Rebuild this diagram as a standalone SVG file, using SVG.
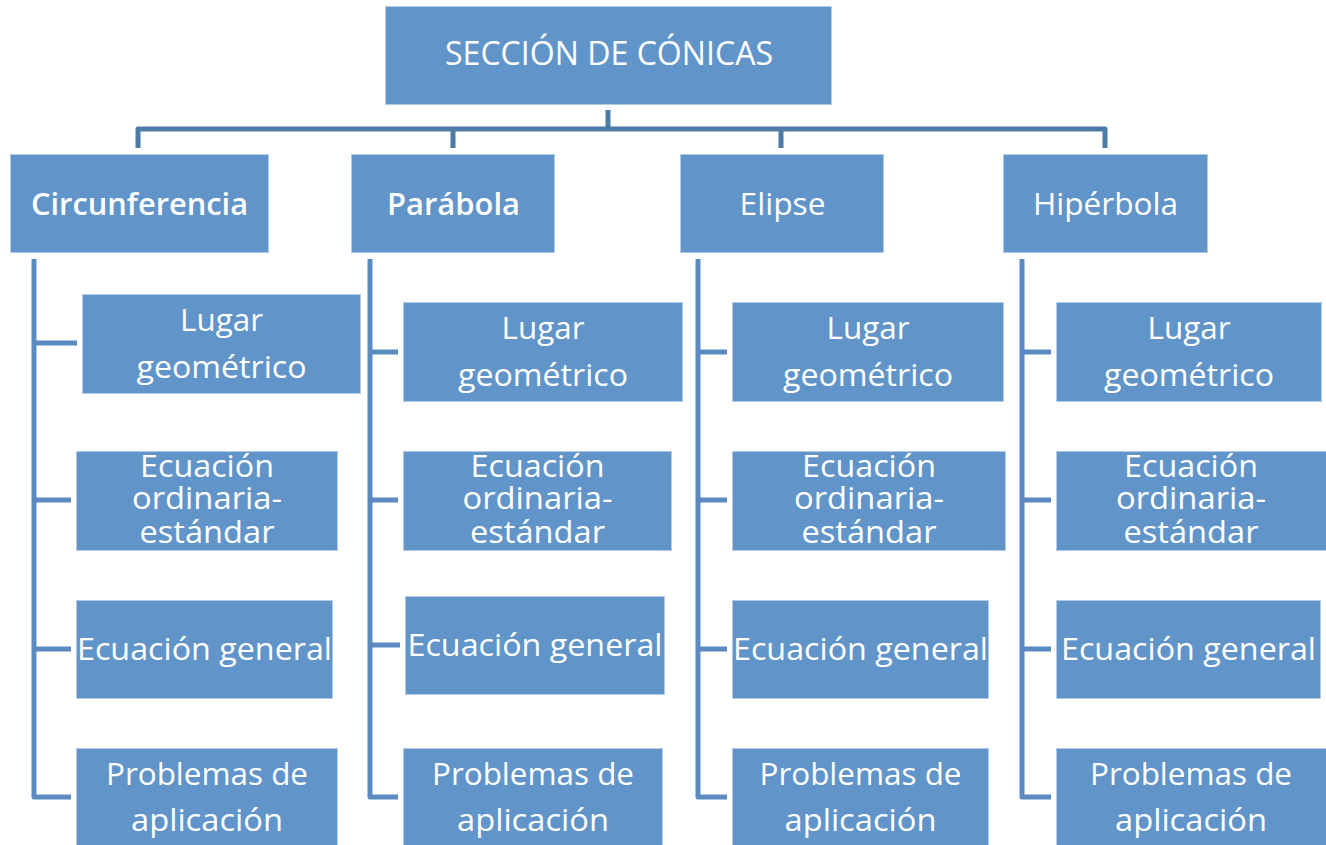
<svg xmlns="http://www.w3.org/2000/svg" width="1326" height="845" viewBox="0 0 1326 845">
<style>
.box{fill:#6195c9;stroke:#b3cbe6;stroke-width:1}
.t{font-family:"Open Sans","Liberation Sans",sans-serif;font-size:31px;fill:#ffffff;text-anchor:middle}
.h{font-size:32px;font-weight:500}
.b{font-weight:600}
.top{fill:none;stroke:#4e7aa8;stroke-width:5;stroke-linejoin:round}
.col{fill:none;stroke:#5b8ac0;stroke-width:5;stroke-linejoin:round}
</style>
<rect width="1326" height="845" fill="#ffffff"/>
<g id="connectors">
<path class="top" d="M608,110 V129"/>
<path class="top" d="M138,148 V129 H1105 V148"/>
<path class="top" d="M453,129 V148"/>
<path class="top" d="M781,129 V148"/>
<path class="col" d="M34,259 V797 H71 M34,343 H77 M34,500 H71 M34,649 H71"/>
<path class="col" d="M370,259 V797 H398 M370,352 H398 M370,500 H398 M370,645 H400"/>
<path class="col" d="M698,259 V797 H727 M698,352 H727 M698,500 H727 M698,649 H727"/>
<path class="col" d="M1022,259 V797 H1051 M1022,352 H1051 M1022,500 H1051 M1022,649 H1051"/>
</g>
<g id="root">
<rect class="box" x="385.5" y="6.5" width="446" height="98"/>
<text class="t h" x="609" y="65" textLength="328" lengthAdjust="spacingAndGlyphs">SECCIÓN DE CÓNICAS</text>
</g>
<g id="circunferencia">
<rect class="box" x="10.5" y="154.5" width="258" height="98"/>
<text class="t b" x="139.5" y="215" textLength="217" lengthAdjust="spacingAndGlyphs">Circunferencia</text>
</g>
<g id="parabola">
<rect class="box" x="351.5" y="154.5" width="203" height="98"/>
<text class="t b" x="453.5" y="215" textLength="133" lengthAdjust="spacingAndGlyphs">Parábola</text>
</g>
<g id="elipse">
<rect class="box" x="680.5" y="154.5" width="203" height="98"/>
<text class="t" x="782.5" y="215" textLength="86" lengthAdjust="spacingAndGlyphs">Elipse</text>
</g>
<g id="hiperbola">
<rect class="box" x="1003.5" y="154.5" width="204" height="98"/>
<text class="t" x="1105.5" y="215" textLength="145" lengthAdjust="spacingAndGlyphs">Hipérbola</text>
</g>

<g id="c1-lugar">
<rect class="box" x="82.5" y="294.5" width="278" height="99"/>
<text class="t" x="221.5" y="331" textLength="83" lengthAdjust="spacingAndGlyphs">Lugar</text>
<text class="t" x="221.5" y="378" textLength="170" lengthAdjust="spacingAndGlyphs">geométrico</text>
</g>
<g id="c1-ordinaria">
<rect class="box" x="76.5" y="451.5" width="261" height="99"/>
<text class="t" x="207" y="477" textLength="134" lengthAdjust="spacingAndGlyphs">Ecuación</text>
<text class="t" x="207" y="509" textLength="150" lengthAdjust="spacingAndGlyphs">ordinaria-</text>
<text class="t" x="207" y="543" textLength="135" lengthAdjust="spacingAndGlyphs">estándar</text>
</g>
<g id="c1-general">
<rect class="box" x="76.5" y="600.5" width="256" height="98"/>
<text class="t" x="204.5" y="660" textLength="255" lengthAdjust="spacingAndGlyphs">Ecuación general</text>
</g>
<g id="c1-problemas">
<rect class="box" x="76.5" y="748.5" width="261" height="99"/>
<text class="t" x="207" y="785" textLength="202" lengthAdjust="spacingAndGlyphs">Problemas de</text>
<text class="t" x="207" y="831" textLength="152" lengthAdjust="spacingAndGlyphs">aplicación</text>
</g>

<g id="c2-lugar">
<rect class="box" x="403.5" y="302.5" width="279" height="99"/>
<text class="t" x="543" y="339" textLength="83" lengthAdjust="spacingAndGlyphs">Lugar</text>
<text class="t" x="543" y="386" textLength="170" lengthAdjust="spacingAndGlyphs">geométrico</text>
</g>
<g id="c2-ordinaria">
<rect class="box" x="403.5" y="451.5" width="268" height="99"/>
<text class="t" x="537.5" y="477" textLength="134" lengthAdjust="spacingAndGlyphs">Ecuación</text>
<text class="t" x="537.5" y="509" textLength="150" lengthAdjust="spacingAndGlyphs">ordinaria-</text>
<text class="t" x="537.5" y="543" textLength="135" lengthAdjust="spacingAndGlyphs">estándar</text>
</g>
<g id="c2-general">
<rect class="box" x="405.5" y="596.5" width="259" height="98"/>
<text class="t" x="535" y="656" textLength="255" lengthAdjust="spacingAndGlyphs">Ecuación general</text>
</g>
<g id="c2-problemas">
<rect class="box" x="403.5" y="748.5" width="259" height="99"/>
<text class="t" x="533" y="785" textLength="202" lengthAdjust="spacingAndGlyphs">Problemas de</text>
<text class="t" x="533" y="831" textLength="152" lengthAdjust="spacingAndGlyphs">aplicación</text>
</g>

<g id="c3-lugar">
<rect class="box" x="732.5" y="302.5" width="271" height="99"/>
<text class="t" x="868" y="339" textLength="83" lengthAdjust="spacingAndGlyphs">Lugar</text>
<text class="t" x="868" y="386" textLength="170" lengthAdjust="spacingAndGlyphs">geométrico</text>
</g>
<g id="c3-ordinaria">
<rect class="box" x="732.5" y="451.5" width="273" height="99"/>
<text class="t" x="869" y="477" textLength="134" lengthAdjust="spacingAndGlyphs">Ecuación</text>
<text class="t" x="869" y="509" textLength="150" lengthAdjust="spacingAndGlyphs">ordinaria-</text>
<text class="t" x="869" y="543" textLength="135" lengthAdjust="spacingAndGlyphs">estándar</text>
</g>
<g id="c3-general">
<rect class="box" x="732.5" y="600.5" width="256" height="98"/>
<text class="t" x="860.5" y="660" textLength="255" lengthAdjust="spacingAndGlyphs">Ecuación general</text>
</g>
<g id="c3-problemas">
<rect class="box" x="732.5" y="748.5" width="256" height="99"/>
<text class="t" x="860.5" y="785" textLength="202" lengthAdjust="spacingAndGlyphs">Problemas de</text>
<text class="t" x="860.5" y="831" textLength="152" lengthAdjust="spacingAndGlyphs">aplicación</text>
</g>

<g id="c4-lugar">
<rect class="box" x="1056.5" y="302.5" width="265" height="99"/>
<text class="t" x="1189" y="339" textLength="83" lengthAdjust="spacingAndGlyphs">Lugar</text>
<text class="t" x="1189" y="386" textLength="170" lengthAdjust="spacingAndGlyphs">geométrico</text>
</g>
<g id="c4-ordinaria">
<rect class="box" x="1056.5" y="451.5" width="270" height="99"/>
<text class="t" x="1191" y="477" textLength="134" lengthAdjust="spacingAndGlyphs">Ecuación</text>
<text class="t" x="1191" y="509" textLength="150" lengthAdjust="spacingAndGlyphs">ordinaria-</text>
<text class="t" x="1191" y="543" textLength="135" lengthAdjust="spacingAndGlyphs">estándar</text>
</g>
<g id="c4-general">
<rect class="box" x="1056.5" y="600.5" width="264" height="98"/>
<text class="t" x="1188.5" y="660" textLength="255" lengthAdjust="spacingAndGlyphs">Ecuación general</text>
</g>
<g id="c4-problemas">
<rect class="box" x="1056.5" y="748.5" width="270" height="99"/>
<text class="t" x="1191" y="785" textLength="202" lengthAdjust="spacingAndGlyphs">Problemas de</text>
<text class="t" x="1191" y="831" textLength="152" lengthAdjust="spacingAndGlyphs">aplicación</text>
</g>
</svg>
